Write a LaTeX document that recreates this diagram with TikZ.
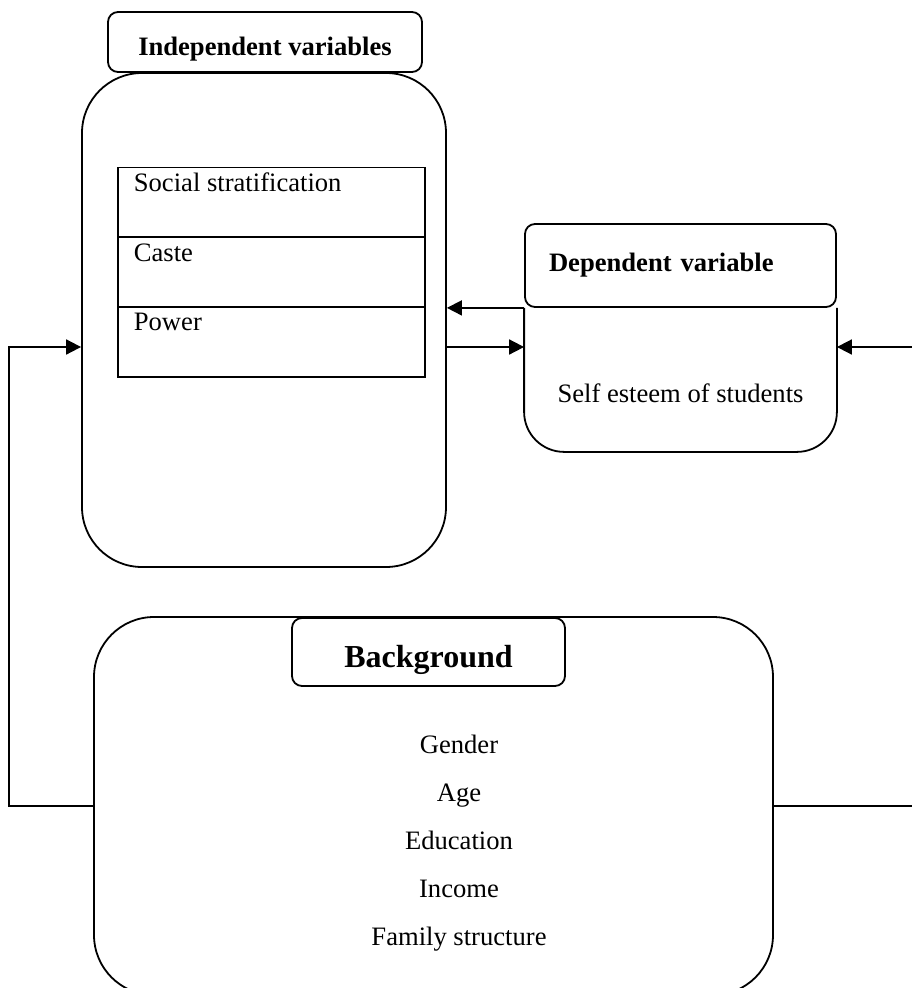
\documentclass[tikz,border=0pt]{standalone}
\usepackage{fontspec}
\setmainfont{Liberation Serif}
\usetikzlibrary{arrows.meta}
\begin{document}
\begin{tikzpicture} [
                x=1pt, y=-1pt,
                font=\fontsize{26.6pt}{32pt}\selectfont,
                line width=1.8pt,
                big box/.style = {draw, rounded corners=60pt, inner sep=0pt},
                head box/.style = {draw, fill=white, rounded corners=10pt, inner sep=0pt,
                    font=\fontsize{26.6pt}{32pt}\selectfont\bfseries},
                row box/.style = {draw, minimum width=307pt, minimum height=70pt, inner sep=0pt},
                arrow/.style = {draw, -{Triangle[length=15pt,width=15pt]}},
            ]
            \useasboundingbox (0,0) rectangle (912,988);
            \clip (0,0) rectangle (912,988);
            % Independent variables with its table
            \node[big box, minimum width=364pt, minimum height=494pt] (indep) at (264,320) {};
            \node[head box, minimum width=314pt, minimum height=60pt,
                text height=26pt, text depth=0pt] (indeptitle) at (265,42) {Independent variables};
            \foreach \y/\name in {202.5/strat, 272/caste, 342/power}
                \node[row box] (\name) at (271.5,\y) {};
            \foreach \y/\name/\txt in {
                    191/stratlabel/Social stratification, 261/castelabel/Caste, 330/powerlabel/Power}
                \node[anchor=base west, inner sep=0pt] (\name) at (133,\y) {\txt};
            % Dependent variable
            \node[minimum width=311pt, minimum height=227pt, inner sep=0pt] (dep) at (680.5,337.5) {};
            \node[head box, minimum width=311pt, minimum height=83pt, text width=263pt, align=left] (dephead) at (680.5,265.5) {Dependent variable};
            \draw[rounded corners=40pt] (dephead.south west) -- (dep.south west) -- (dep.south east) -- (dephead.south east);
            \node (selfesteem) at (680.5,393) {Self esteem of students};
            % Background
            \node[big box, minimum width=679pt, minimum height=378pt] (bg) at (433.5,806) {};
            \node[head box, minimum width=273pt, minimum height=68pt, text height=30pt, text depth=0pt,
                font=\fontsize{32pt}{38pt}\selectfont\bfseries] (bgtitle) at (428.5,652) {Background};
            \foreach \i/\name/\txt in {
                    0/gender/Gender, 1/age/Age, 2/edu/Education, 3/income/Income, 4/family/Family structure}
                \node[anchor=base, inner sep=0pt] (\name) at (459,{753+48*\i}) {\txt};
            % Connect the boxes
            \coordinate (lturn) at (9,347);
            \coordinate (rturn) at (930,347);
            \path[arrow] (dephead.south west) -- (dephead.south west -| indep.east);
            \path[arrow] (lturn -| indep.east) -- (lturn -| dep.west);
            \path[arrow] (bg.west) -| (lturn) -- (lturn -| indep.west);
            \path[arrow] (bg.east) -| (rturn) -- (rturn -| dep.east);
        \end{tikzpicture}
\end{document}
